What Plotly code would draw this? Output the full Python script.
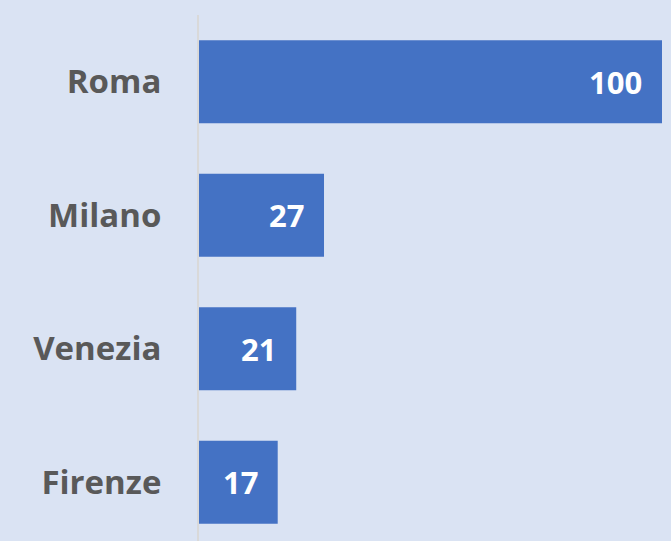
import plotly.graph_objects as go

cities = ["Roma", "Milano", "Venezia", "Firenze"]
values = [100, 27, 21, 17]

BG = "#dae3f3"
BAR = "#4472c4"
GRAY = "#595959"
FONT = "Open Sans"

fig = go.Figure(go.Bar(
    x=values, y=cities, orientation="h",
    marker=dict(color=BAR, line=dict(width=0)),
    width=0.62,
    hoverinfo="skip",
))

for c, v in zip(cities, values):
    fig.add_annotation(x=v, y=c, text=str(v), showarrow=False,
                       xanchor="right", xshift=-18,
                       font=dict(family=FONT, size=31, color="white", weight="bold"))

fig.update_layout(
    width=671, height=541,
    margin=dict(l=199, r=9, t=15, b=0),
    paper_bgcolor=BG, plot_bgcolor=BG,
    showlegend=False,
    bargap=0.38,
    xaxis=dict(range=[0, 100], visible=False, fixedrange=True),
    yaxis=dict(
        categoryorder="array", categoryarray=cities,
        range=[3.44, -0.5],
        showline=True, linecolor="#d9d9d9", linewidth=2,
        showgrid=False, zeroline=False,
        ticks="", ticklabelstandoff=29,
        tickfont=dict(family=FONT, size=33, color=GRAY, weight="bold"),
    ),
)

fig.write_html("out.html", config={"displayModeBar": False},
               post_script="document.body.style.margin='0';document.body.style.background='%s';" % BG)
